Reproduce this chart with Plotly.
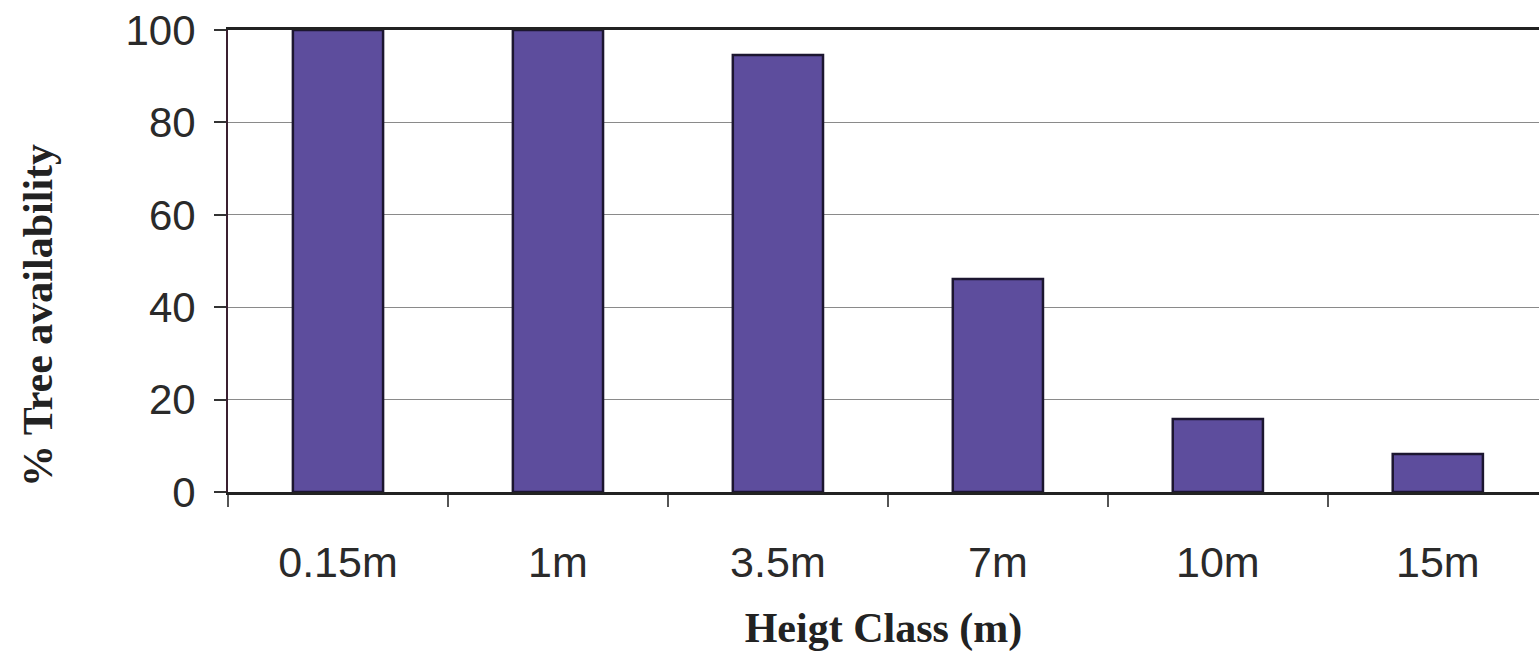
import plotly.graph_objects as go

categories = ["0.15m", "1m", "3.5m", "7m", "10m", "15m"]
values = [100, 100, 94.6, 46.1, 15.8, 8.2]
y_ticks = [0, 20, 40, 60, 80, 100]

fig = go.Figure()
fig.add_trace(go.Bar(
    x=categories, y=values, width=0.41,
    marker=dict(color="#5d4d9d", line=dict(color="#1c1630", width=2.5)),
))

title_font = dict(family="Liberation Serif, Times New Roman", size=42, color="#222", weight="bold")

fig.update_layout(
    width=1539, height=666,
    margin=dict(l=228, r=0, t=30, b=174),
    paper_bgcolor="white", plot_bgcolor="white",
    showlegend=False,
    font=dict(family="Liberation Sans, Arial", size=42, color="#2a2a2a"),
)
fig.update_xaxes(
    type="category", range=[-0.5, 5.46],
    showline=True, linecolor="#222", linewidth=2.5, mirror=True,
    ticks="outside", tickson="boundaries", ticklen=12, tickcolor="#555", tickwidth=1.5,
    tickfont=dict(size=43),
    ticklabelstandoff=31,
    title=dict(text="Heigt Class (m)", font=title_font, standoff=28),
    showgrid=False,
)
fig.update_yaxes(
    range=[0, 100], tickvals=y_ticks,
    showline=True, linecolor="#3a2030", linewidth=2,
    ticks="outside", ticklen=12, tickcolor="#333", tickwidth=1.5,
    tickfont=dict(size=42),
    ticklabelstandoff=10,
    showgrid=True, gridcolor="#8a8a8a", gridwidth=1.2,
    zeroline=False,
)
fig.add_annotation(
    text="% Tree availability", textangle=-90,
    xref="paper", yref="paper", x=-0.145, y=0.383,
    xanchor="center", yanchor="middle", showarrow=False,
    font=title_font,
)
fig.write_html("out.html")
